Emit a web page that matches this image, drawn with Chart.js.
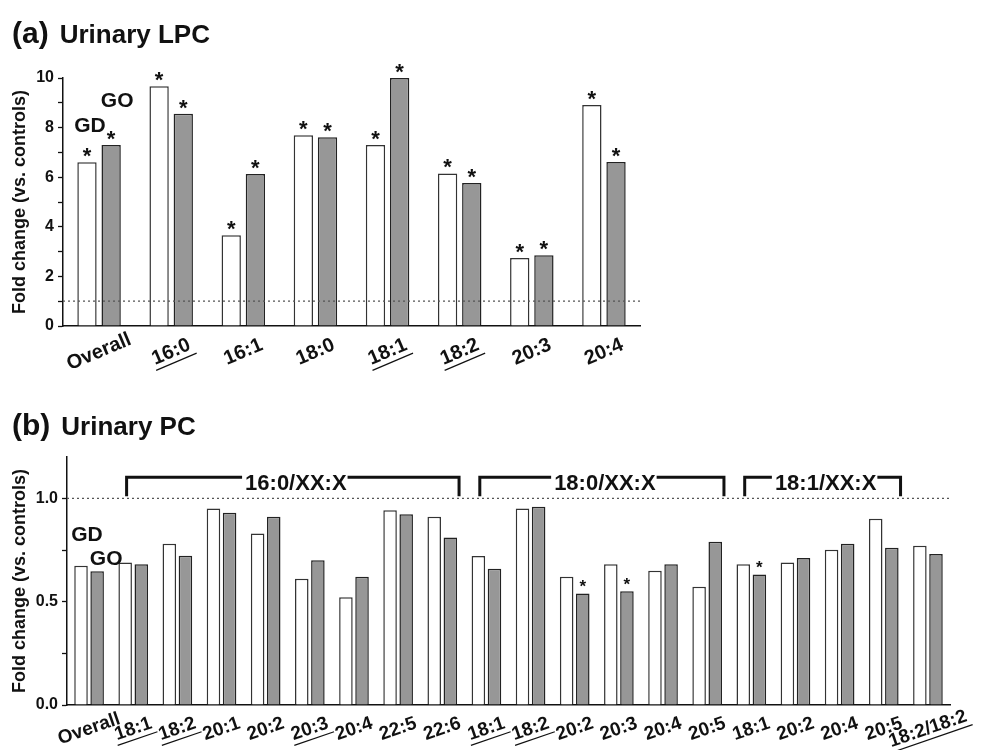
<!DOCTYPE html>
<html>
<head>
<meta charset="utf-8">
<script src="https://cdn.jsdelivr.net/npm/chart.js@4.4.0/dist/chart.umd.min.js"></script>
<style>
  body { margin: 0; background: #fff; }
  #wrap { position: relative; width: 984px; height: 750px; overflow: hidden; }
  canvas { position: absolute; left: 0; }
  #chartA { top: 0; }
  #chartB { top: 390px; }
  .ttl { position: absolute; left: 12px; line-height: 30px; font-family: "Liberation Sans", Arial, sans-serif;
         font-weight: bold; color: #111; white-space: nowrap; }
  .ttl .tag { font-size: 30px; }
  .ttl .name { font-size: 26px; margin-left: 11px; }
</style>
</head>
<body>
<div id="wrap">
  <canvas id="chartA" width="984" height="390"></canvas>
  <canvas id="chartB" width="984" height="360"></canvas>
  <div class="ttl" style="top:18px"><span class="tag">(a)</span><span class="name">Urinary LPC</span></div>
  <div class="ttl" style="top:410px"><span class="tag">(b)</span><span class="name">Urinary PC</span></div>
</div>
<script>
// (a) urinary LPC, fold change vs controls
var lpcLabels = ['Overall', '16:0', '16:1', '18:0', '18:1', '18:2', '20:3', '20:4'];
var lpcGD = [6.6, 9.67, 3.66, 7.69, 7.3, 6.15, 2.74, 8.91];
var lpcGO = [7.3, 8.56, 6.13, 7.61, 10.0, 5.77, 2.85, 6.61];
var lpcUnderline = [false, true, false, false, true, true, false, false];
var lpcStarGD = [true, true, true, true, true, true, true, true];
var lpcStarGO = [true, true, true, true, true, true, true, true];
var lpcTickLabels = [0, 2, 4, 6, 8, 10];

// (b) urinary PC
var pcLabels = ['Overall', '18:1', '18:2', '20:1', '20:2', '20:3', '20:4', '22:5', '22:6',
  '18:1', '18:2', '20:2', '20:3', '20:4', '20:5', '18:1', '20:2', '20:4', '20:5', '18:2/18:2'];
var pcGD = [0.674, 0.69, 0.78, 0.951, 0.83, 0.611, 0.521, 0.942, 0.911,
  0.721, 0.951, 0.621, 0.681, 0.65, 0.572, 0.681, 0.69, 0.751, 0.901, 0.771];
var pcGO = [0.647, 0.681, 0.722, 0.93, 0.911, 0.70, 0.621, 0.923, 0.811,
  0.659, 0.959, 0.54, 0.55, 0.681, 0.79, 0.632, 0.711, 0.78, 0.761, 0.731];
var pcUnderline = [false, true, true, false, false, true, false, false, false,
  true, true, false, false, false, false, false, false, false, false, true];
var pcStarGD = pcLabels.map(function() { return false; });
var pcStarGO = [false, false, false, false, false, false, false, false, false,
  false, false, true, true, false, false, true, false, false, false, false];
var pcTickLabels = [0, 0.5, 1.0];
var pcGroupNames = ['16:0/XX:X', '18:0/XX:X', '18:1/XX:X'];
var pcGroupFirst = [1, 9, 15];
var pcGroupLast = [8, 14, 18];

var controlLevel = 1;

var FONT = '"Liberation Sans", Arial, sans-serif';
var INK = '#111';

var drawDotted = function(chart) {
  var ctx = chart.ctx, a = chart.chartArea;
  var y = chart.scales.y.getPixelForValue(controlLevel);
  ctx.save();
  ctx.strokeStyle = '#555';
  ctx.lineWidth = 1.3;
  ctx.setLineDash([2, 3]);
  ctx.beginPath();
  ctx.moveTo(a.left, y);
  ctx.lineTo(a.right, y);
  ctx.stroke();
  ctx.restore();
};

var drawStars = function(chart, dsIndex, flags, size, lift) {
  var ctx = chart.ctx;
  ctx.save();
  ctx.font = 'bold ' + size + 'px ' + FONT;
  ctx.fillStyle = INK;
  ctx.textAlign = 'center';
  ctx.textBaseline = 'alphabetic';
  chart.getDatasetMeta(dsIndex).data.forEach(function(bar, i) {
    if (flags[i]) ctx.fillText('*', bar.x, bar.y - lift);
  });
  ctx.restore();
};

var drawXLabels = function(chart, labels, underline, angle, size, drop) {
  var ctx = chart.ctx, xs = chart.scales.x;
  var y0 = chart.chartArea.bottom + drop;
  ctx.save();
  ctx.font = 'bold ' + size + 'px ' + FONT;
  ctx.fillStyle = INK;
  ctx.strokeStyle = INK;
  ctx.textAlign = 'center';
  ctx.textBaseline = 'middle';
  labels.forEach(function(lab, i) {
    ctx.save();
    ctx.translate(xs.getPixelForValue(i), y0);
    ctx.rotate(-angle * Math.PI / 180);
    ctx.fillText(lab, 0, 0);
    if (underline[i]) {
      var w = ctx.measureText(lab).width;
      ctx.lineWidth = 1.2;
      ctx.beginPath();
      ctx.moveTo(-w / 2 - 1, size * 0.55);
      ctx.lineTo(w / 2 + 3, size * 0.55);
      ctx.stroke();
    }
    ctx.restore();
  });
  ctx.restore();
};

var drawGroupNames = function(chart, size, dx, dyGD, dxGO, dyGO) {
  var ctx = chart.ctx;
  var gd = chart.getDatasetMeta(0).data[0], go = chart.getDatasetMeta(1).data[0];
  ctx.save();
  ctx.font = 'bold ' + size + 'px ' + FONT;
  ctx.fillStyle = INK;
  ctx.textAlign = 'center';
  ctx.textBaseline = 'middle';
  ctx.fillText('GD', gd.x + dx, gd.y + dyGD);
  ctx.fillText('GO', go.x + dxGO, go.y + dyGO);
  ctx.restore();
};

var drawBrackets = function(chart) {
  var ctx = chart.ctx, xs = chart.scales.x;
  var step = xs.getPixelForValue(1) - xs.getPixelForValue(0);
  var yLine = chart.scales.y.getPixelForValue(controlLevel) - 21;
  var yFoot = chart.scales.y.getPixelForValue(controlLevel) - 2;
  ctx.save();
  ctx.font = 'bold 22px ' + FONT;
  ctx.fillStyle = INK;
  ctx.strokeStyle = INK;
  ctx.lineWidth = 3;
  ctx.textAlign = 'center';
  ctx.textBaseline = 'alphabetic';
  pcGroupNames.forEach(function(name, k) {
    var x1 = xs.getPixelForValue(pcGroupFirst[k]) - 0.15 * step;
    var x2 = xs.getPixelForValue(pcGroupLast[k]) + 0.38 * step;
    var mid = (x1 + x2) / 2 + 3;
    var w = ctx.measureText(name).width;
    ctx.beginPath();
    ctx.moveTo(x1, yFoot);
    ctx.lineTo(x1, yLine);
    ctx.lineTo(mid - w / 2 - 3, yLine);
    ctx.moveTo(mid + w / 2 + 1, yLine);
    ctx.lineTo(x2, yLine);
    ctx.lineTo(x2, yFoot);
    ctx.stroke();
    ctx.fillText(name, mid, yLine + 13);
  });
  ctx.restore();
};

var barSets = function(gd, go) {
  return [
    { label: 'GD', data: gd, backgroundColor: '#ffffff', borderColor: '#333', borderWidth: 1.5 },
    { label: 'GO', data: go, backgroundColor: '#979797', borderColor: '#222', borderWidth: 1.5 }
  ];
};

var tickLabelFont = { family: FONT, size: 16, weight: 'bold' };

var makeOptions = function(cfg) {
  return {
    responsive: false,
    animation: false,
    events: [],
    layout: { padding: cfg.padding },
    datasets: { bar: { categoryPercentage: cfg.catPct, barPercentage: cfg.barPct } },
    plugins: { legend: { display: false }, tooltip: { enabled: false } },
    scales: {
      x: {
        border: { color: INK, width: 1.5 },
        grid: { display: false },
        ticks: { display: false },
        afterFit: function(s) { s.height = cfg.xHeight; }
      },
      y: {
        min: 0,
        max: cfg.max,
        border: { color: INK, width: 1.5 },
        grid: {
          drawOnChartArea: false,
          tickLength: 5,
          tickWidth: 1.3,
          tickColor: function(c) { return c.tick && c.tick.value > cfg.lastTick + 1e-6 ? 'rgba(0,0,0,0)' : INK; }
        },
        ticks: {
          stepSize: cfg.step,
          autoSkip: false,
          padding: 4,
          color: INK,
          font: tickLabelFont,
          callback: function(v) {
            for (var i = 0; i < cfg.tickLabels.length; i++) {
              if (Math.abs(cfg.tickLabels[i] - v) < 1e-6) return cfg.fmt(v);
            }
            return '';
          }
        },
        title: {
          display: true,
          text: 'Fold change (vs. controls)',
          color: INK,
          font: { family: FONT, size: 18, weight: 'bold' },
          padding: { top: 9, bottom: 0 }
        },
        afterFit: function(s) { s.width = cfg.yWidth; }
      }
    }
  };
};

new Chart(document.getElementById('chartA'), {
  type: 'bar',
  data: { labels: lpcLabels, datasets: barSets(lpcGD, lpcGO) },
  options: makeOptions({
    padding: { left: 0, top: 78, right: 344, bottom: 0 },
    catPct: 0.67, barPct: 0.8, xHeight: 64, yWidth: 63, max: 10, step: 1, lastTick: 10,
    tickLabels: lpcTickLabels, fmt: function(v) { return String(v); }
  }),
  plugins: [{
    id: 'lpcMarks',
    afterDatasetsDraw: function(chart) {
      drawDotted(chart);
      drawStars(chart, 0, lpcStarGD, 22, -1);
      drawStars(chart, 1, lpcStarGO, 22, -1);
      drawGroupNames(chart, 21, 3, -36, 6, -44);
      drawXLabels(chart, lpcLabels, lpcUnderline, 23, 20, 26);
    }
  }]
});

new Chart(document.getElementById('chartB'), {
  type: 'bar',
  data: { labels: pcLabels, datasets: barSets(pcGD, pcGO) },
  options: makeOptions({
    padding: { left: 0, top: 67, right: 34, bottom: 0 },
    catPct: 0.73, barPct: 0.84, xHeight: 45, yWidth: 67, max: 1.2, step: 0.25, lastTick: 1.0,
    tickLabels: pcTickLabels, fmt: function(v) { return v.toFixed(1); }
  }),
  plugins: [{
    id: 'pcMarks',
    afterDatasetsDraw: function(chart) {
      drawDotted(chart);
      drawStars(chart, 0, pcStarGD, 17, 1);
      drawStars(chart, 1, pcStarGO, 17, 1);
      drawGroupNames(chart, 21, 6, -31, 9, -12);
      drawBrackets(chart);
      drawXLabels(chart, pcLabels, pcUnderline, 19, 19, 24);
    }
  }]
});
</script>
</body>
</html>
